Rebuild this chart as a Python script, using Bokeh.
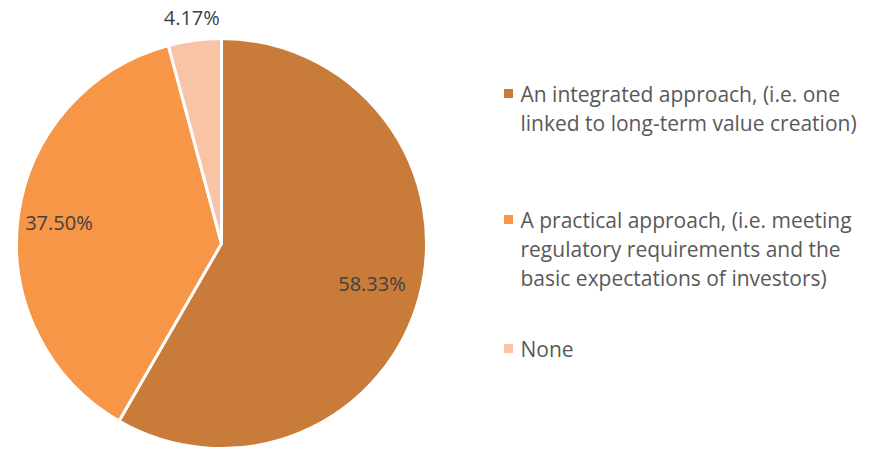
import math
from bokeh.plotting import figure
from bokeh.models import Range1d, ColumnDataSource
from bokeh.core.properties import value
from bokeh.embed import file_html
from bokeh.resources import INLINE

categories = [
    "An integrated approach, (i.e. one\nlinked to long-term value creation)",
    "A practical approach, (i.e. meeting\nregulatory requirements and the\nbasic expectations of investors)",
    "None",
]
shares = [58.33, 37.50, 4.17]
labels = ["58.33%", "37.50%", "4.17%"]
colors = ["#C97B3A", "#F79646", "#F9C3A6"]

W, H = 875, 450
CX, CY, R = 221, 450 - 243, 205
label_r = [0.76, 0.80, 1.11]
FONT = "Open Sans"

total = sum(shares)
starts, ends, mids = [], [], []
cum = 0.0
for s in shares:
    a0 = math.pi / 2 - 2 * math.pi * (cum + s) / total
    a1 = math.pi / 2 - 2 * math.pi * cum / total
    starts.append(a0)
    ends.append(a1)
    mids.append((a0 + a1) / 2)
    cum += s

p = figure(width=W, height=H, output_backend="svg", toolbar_location=None,
           x_range=Range1d(0, W), y_range=Range1d(0, H), min_border=0)
p.axis.visible = False
p.grid.visible = False
p.outline_line_color = None

src = ColumnDataSource(dict(start=starts, end=ends, color=colors))
p.wedge(x=CX, y=CY, radius=R, start_angle="start", end_angle="end",
        fill_color="color", line_color="white", line_width=3, source=src)

lx = [CX + f * R * math.cos(m) for f, m in zip(label_r, mids)]
ly = [CY + f * R * math.sin(m) for f, m in zip(label_r, mids)]
p.text(x=lx, y=ly, text=labels, text_font=value(FONT), text_font_size="20px",
       text_color="#404040", text_align="center", text_baseline="middle")

# legend
leg_y = [450 - 93, 450 - 219, 450 - 348]
LINE = 29
p.rect(x=[508] * 3, y=leg_y, width=9, height=9, fill_color=colors, line_color=None)
tx, ty, tt = [], [], []
for y0, cat in zip(leg_y, categories):
    for i, line in enumerate(cat.split("\n")):
        tx.append(520)
        ty.append(y0 - i * LINE)
        tt.append(line)
p.text(x=tx, y=ty, text=tt, text_font=value(FONT),
       text_font_size="21px", text_color="#595959", text_align="left",
       text_baseline="middle")

open("out.html", "w").write(file_html(p, INLINE))
